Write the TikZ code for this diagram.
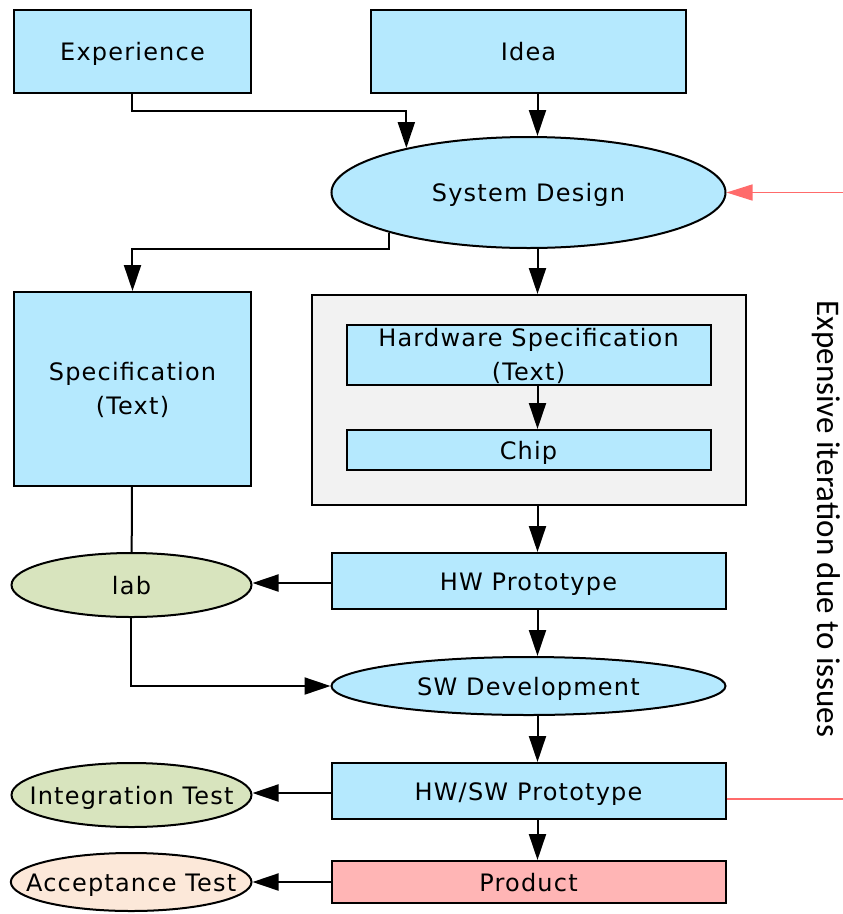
\documentclass[tikz,border=0pt]{standalone}
\usepackage{fontspec}
\setmainfont{Carlito}
\newfontfamily\lblfont[LetterSpace=5]{DejaVu Sans}
\usetikzlibrary{shapes.geometric, arrows.meta, positioning}

\definecolor{boxblue}{HTML}{B5E9FE}
\definecolor{groupgray}{HTML}{F2F2F2}
\definecolor{labgreen}{HTML}{D8E4BE}
\definecolor{testpeach}{HTML}{FCE8D9}
\definecolor{prodpink}{HTML}{FFB5B5}
\definecolor{loopred}{HTML}{FF6B6B}

\begin{document}
\begin{tikzpicture}[
    x=1pt, y=1pt,
    box/.style={rectangle, draw, line width=2pt, fill=boxblue, inner sep=0pt, align=center, text height=18pt, text depth=0pt, font=\lblfont\fontsize{24}{34}\selectfont},
    oval/.style={ellipse, draw, line width=2pt, fill=boxblue, inner xsep=-20pt, inner ysep=0pt, align=center, text height=18pt, text depth=0pt, font=\lblfont\fontsize{24}{34}\selectfont},
    twoline/.style={text height=50pt},
    arrow/.style={-{Triangle[length=26pt,width=17pt]}, line width=2pt},
    redarrow/.style={-{Triangle[length=26pt,width=16pt]}, line width=1.5pt, loopred}
]
\useasboundingbox (-132.5,51.5) rectangle (710.5,-862.5);
\clip (-132.5,51.5) rectangle (710.5,-862.5);

\node[box, minimum width=237pt, minimum height=83pt] (experience) {Experience};
\node[box, minimum width=315pt, minimum height=83pt, right=118pt of experience] (idea) {Idea};
\node[oval, minimum width=394pt, minimum height=111pt, below=42pt of idea] (sysdesign) {System Design};
\node[box, twoline, minimum width=237pt, minimum height=194pt, below=197pt of experience] (spec) {Specification\\(Text)};
\node[box, fill=groupgray, minimum width=434pt, minimum height=210pt, below=45pt of sysdesign] (hwgroup) {};
\node[box, twoline, minimum width=364pt, minimum height=60pt, below=30pt of hwgroup.north] (hwspec) {Hardware Specification\\(Text)};
\node[box, minimum width=364pt, minimum height=40pt, below=43pt of hwspec] (chip) {Chip};
\node[box, minimum width=394pt, minimum height=56pt, below=46pt of hwgroup] (hwproto) {HW Prototype};
\node[oval, fill=labgreen, minimum width=240pt, minimum height=64pt, left=78pt of hwproto, yshift=-4pt] (lab) {lab};
\node[oval, minimum width=394pt, minimum height=58pt, below=46pt of hwproto] (swdev) {SW Development};
\node[box, minimum width=394pt, minimum height=56pt, below=46pt of swdev] (hwsw) {HW/SW Prototype};
\node[oval, fill=labgreen, minimum width=240pt, minimum height=64pt, left=78pt of hwsw, yshift=-4pt] (integ) {Integration Test};
\node[box, fill=prodpink, minimum width=394pt, minimum height=42pt, below=40pt of hwsw] (product) {Product};
\node[oval, fill=testpeach, minimum width=240pt, minimum height=58pt, left=78pt of product] (accept) {Acceptance Test};

\node[font=\fontsize{33}{36}\selectfont, rotate=-90] (note) at (693.5,-467.5) {Expensive iteration due to issues};

% main flow
\draw[arrow] (experience.south) -- ++(0,-17pt) -| (sysdesign.160);
\draw[arrow] ([xshift=9pt]idea.south) -- ([xshift=9pt]sysdesign.north);
\draw[arrow] (sysdesign.196) -- ++(0,-16pt) -| (spec.north);
\draw[arrow] ([xshift=9pt]sysdesign.south) -- ([xshift=9pt]hwgroup.north);
\draw[arrow] ([xshift=9pt]hwspec.south) -- ([xshift=9pt]chip.north);
\draw[arrow] ([xshift=9pt]hwgroup.south) -- ([xshift=9pt]hwproto.north);
\draw[line width=2pt] (spec) -- (lab);
\draw[arrow] ([yshift=-2pt]hwproto.west) -- ([yshift=2pt]lab.east);
\draw[arrow] (lab.south) |- (swdev.west);
\draw[arrow] ([xshift=9pt]hwproto.south) -- ([xshift=9pt]swdev.north);
\draw[arrow] ([xshift=9pt]swdev.south) -- ([xshift=9pt]hwsw.north);
\draw[arrow] ([yshift=-2pt]hwsw.west) -- ([yshift=2pt]integ.east);
\draw[arrow] ([xshift=9pt]hwsw.south) -- ([xshift=9pt]product.north);
\draw[arrow] (product) -- (accept);

% iteration loop
\draw[redarrow] ([yshift=-8pt]hwsw.east) -- ++(160pt,0) |- (sysdesign.east);

\end{tikzpicture}
\end{document}
